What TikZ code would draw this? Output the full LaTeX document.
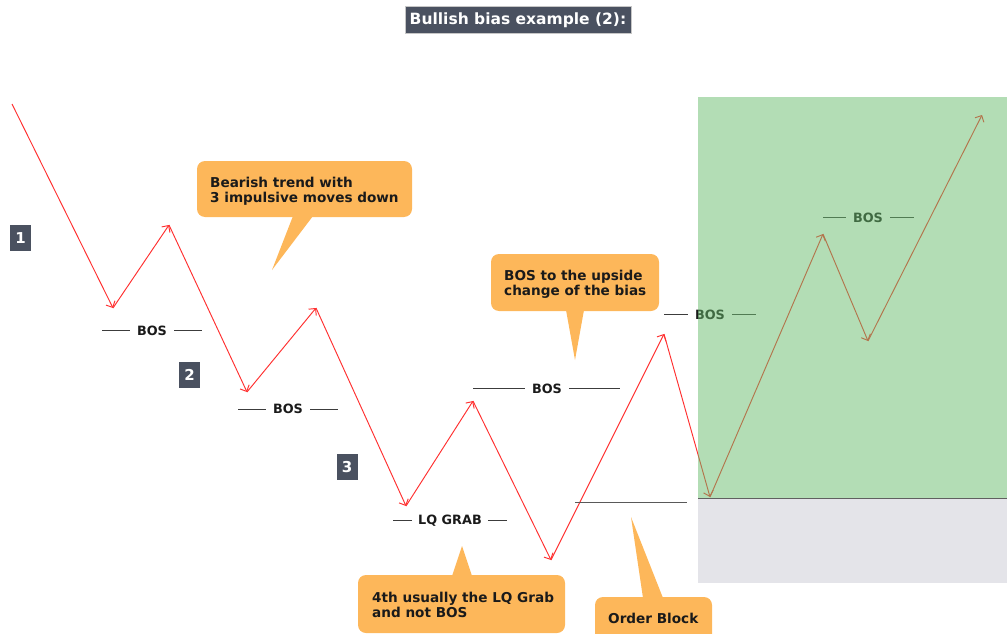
\documentclass[tikz,border=0pt]{standalone}
\usepackage{fontspec}
\setmainfont{DejaVu Sans}
\usetikzlibrary{arrows.meta}
\definecolor{trend}{HTML}{FF3030}
\definecolor{callout}{HTML}{FDB75A}
\definecolor{tagbg}{HTML}{4A5160}
\definecolor{zonegreen}{HTML}{67BB6B}
\definecolor{zonegray}{HTML}{E4E4E9}
\definecolor{ink}{HTML}{1A1A1A}
\begin{document}
\begin{tikzpicture}[x=1pt,y=-1pt,
  move/.style={draw=trend, line width=0.95pt, -{Straight Barb[length=5pt,width=10pt]}},
  lvl/.style={font=\bfseries\fontsize{12.8}{14}\selectfont, text=ink, inner sep=0pt},
  lvline/.style={draw=ink!85, line width=0.8pt},
  tag/.style={fill=tagbg, text=white, font=\bfseries\fontsize{15}{16}\selectfont, minimum width=21pt, minimum height=26pt, inner sep=0pt},
  bubble/.style={fill=callout, rounded corners=8pt},
  btext/.style={font=\bfseries\fontsize{13.6}{15}\selectfont, text=ink, align=left, inner sep=0pt, anchor=north west}]
\useasboundingbox (0,0) rectangle (1007,634);
\clip (0,0) rectangle (1007,634);
% zones (gray under)
\fill[zonegray] (698,498) rectangle (1007,583);
% title
\node[fill=tagbg, draw=gray!45, line width=0.8pt, text=white, font=\bfseries\fontsize{15.5}{18}\selectfont, minimum width=226pt, minimum height=27pt, inner sep=0pt] (title) at (518,20) {Bullish bias example (2):};
% swing points
\coordinate (p0) at (12,104);
\coordinate (p1) at (113,308);
\coordinate (p2) at (169,225);
\coordinate (p3) at (247,392);
\coordinate (p4) at (316,308);
\coordinate (p5) at (406,506);
\coordinate (p6) at (473,401);
\coordinate (p7) at (551,560);
\coordinate (p8) at (664,334);
\coordinate (p9) at (710,497);
\coordinate (p10) at (823,234);
\coordinate (p11) at (868,341);
\coordinate (p12) at (982,115);
\foreach \a/\b in {p0/p1,p1/p2,p2/p3,p3/p4,p4/p5,p5/p6,p6/p7,p7/p8,p8/p9,p9/p10,p10/p11,p11/p12}
  \draw[move] (\a) -- (\b);
% level labels
\node[lvl] (bos1) at (152,330.5) {BOS};
\draw[lvline] ([xshift=-7pt]bos1.west) -- ++(-28,0);
\draw[lvline] ([xshift=7pt]bos1.east) -- ++(28,0);
\node[lvl] (bos2) at (288,409) {BOS};
\draw[lvline] ([xshift=-7pt]bos2.west) -- ++(-28,0);
\draw[lvline] ([xshift=7pt]bos2.east) -- ++(28,0);
\node[lvl] (bos3) at (547,388.5) {BOS};
\draw[lvline] ([xshift=-7pt]bos3.west) -- ++(-52,0);
\draw[lvline] ([xshift=7pt]bos3.east) -- ++(51,0);
\node[lvl] (bos4) at (710,314.5) {BOS};
\draw[lvline] ([xshift=-7pt]bos4.west) -- ++(-24,0);
\draw[lvline] ([xshift=7pt]bos4.east) -- ++(24,0);
\node[lvl] (bos5) at (868,217.5) {BOS};
\draw[lvline] ([xshift=-7pt]bos5.west) -- ++(-23,0);
\draw[lvline] ([xshift=7pt]bos5.east) -- ++(24,0);
\node[lvl] (lq) at (450,520.5) {LQ GRAB};
\draw[lvline] ([xshift=-6pt]lq.west) -- ++(-19,0);
\draw[lvline] ([xshift=6pt]lq.east) -- ++(19,0);
% order block level
\coordinate (ob1) at (575,502);
\coordinate (ob2) at (687,502);
\draw[draw=gray!70!black, line width=0.9pt] (ob1) -- (ob2);
% numbered tags
\node[tag] (t1) at (20.5,238) {1};
\node[tag] (t2) at (189.5,374.5) {2};
\node[tag] (t3) at (347,467) {3};
% callouts
\fill[bubble] (197,161) rectangle (412,217);
\fill[callout] (293,216) -- (313,216) -- (272,270) -- cycle;
\node[btext] (c1) at (210,176.5) {Bearish trend with\\3 impulsive moves down};
\fill[bubble] (491,254) rectangle (659,311);
\fill[callout] (566,310) -- (584,310) -- (575,360) -- cycle;
\node[btext] (c2) at (504,269.5) {BOS to the upside\\change of the bias};
\fill[bubble] (358,575) rectangle (565,633);
\fill[callout] (452,576) -- (472,576) -- (462,546) -- cycle;
\node[btext] (c3) at (372,591.5) {4th usually the LQ Grab\\and not BOS};
\fill[bubble] (595,597) rectangle (712,650);
\fill[callout] (643,598) -- (663,598) -- (631,517) -- cycle;
\node[btext] (c4) at (608,612.5) {Order Block};
% green zone overlay
\fill[zonegreen, fill opacity=0.5] (698,97) rectangle (1007,498);
\draw[gray!75!black, line width=0.8pt] (698,498) -- (1007,498);
\end{tikzpicture}
\end{document}
